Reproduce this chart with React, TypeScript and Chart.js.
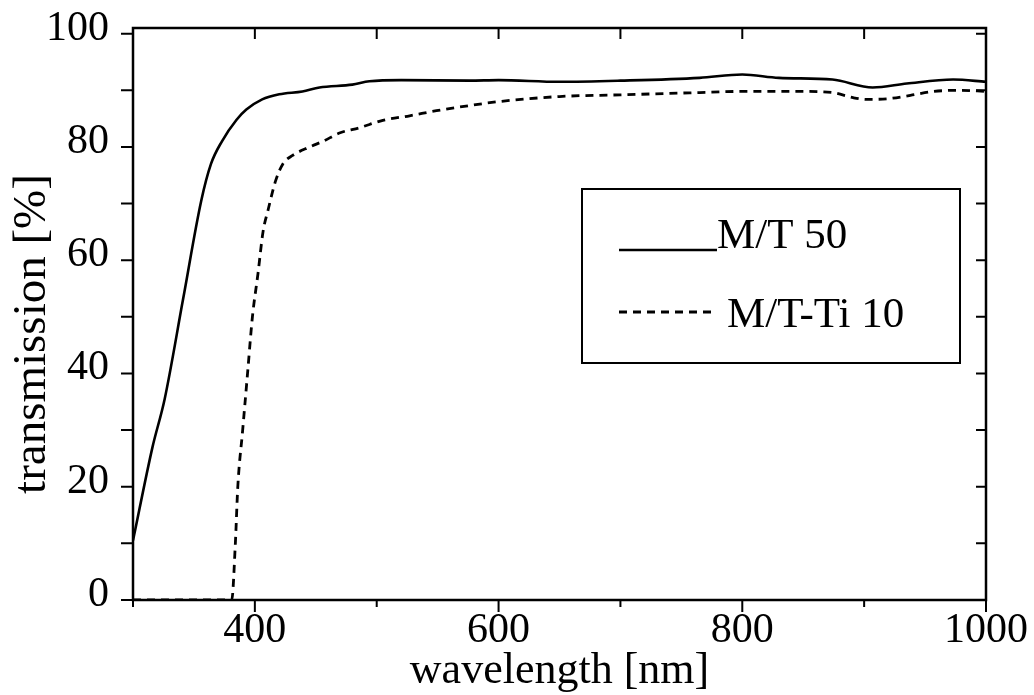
import React, { useEffect, useRef } from 'react';
import { Chart, registerables } from 'chart.js';

Chart.register(...registerables);

// ---- data ----
const wavelengthsMT50 = [300, 316, 326, 341, 356, 364, 373, 385, 393, 406, 420, 439, 453, 480, 494, 520, 576, 600, 650, 700, 765, 800, 830, 874, 907, 935, 973, 1000];
const transmissionMT50 = [10.5, 27, 35.5, 53, 70.5, 77, 81, 84.8, 86.6, 88.4, 89.3, 89.8, 90.5, 91, 91.6, 91.8, 91.7, 91.8, 91.5, 91.7, 92.2, 92.8, 92.2, 91.9, 90.5, 91.2, 91.9, 91.5];

const wavelengthsMTTi10 = [300, 381, 384, 386, 390, 394, 398, 402.6, 406.7, 411, 417, 423, 431, 445, 456, 470, 486, 505, 527, 549, 576, 600, 650, 700, 765, 800, 847, 874, 891, 902, 919, 938, 957, 979, 1000];
const transmissionMTTi10 = [0, 0, 10, 20, 30, 40, 50, 57.7, 65, 69, 74, 77, 78.5, 80, 81, 82.5, 83.4, 84.7, 85.5, 86.4, 87.3, 88, 88.9, 89.2, 89.6, 89.8, 89.8, 89.6, 88.7, 88.4, 88.5, 89.1, 89.8, 90, 89.8];

const seriesLabels = ['M/T 50', 'M/T-Ti 10'];
const xTickValues = [300, 400, 500, 600, 700, 800, 900, 1000];
const xTickLabels = ['', '400', '', '600', '', '800', '', '1000'];
const yTickValues = [0, 10, 20, 30, 40, 50, 60, 70, 80, 90, 100];
const yTickLabels = ['0', '', '20', '', '40', '', '60', '', '80', '', '100'];
const xTitle = 'wavelength [nm]';
const yTitle = 'transmission [%]';

const FONT = "'Liberation Serif', 'Times New Roman', serif";

const framePlugin = {
  id: 'frameAndDecor',
  afterDatasetsDraw(chart: any) {
    const { ctx, chartArea: a, scales } = chart;
    const x = scales.x;
    const y = scales.y;
    ctx.save();
    ctx.strokeStyle = '#000';
    ctx.fillStyle = '#000';
    ctx.lineWidth = 2.5;
    ctx.strokeRect(a.left, a.top, a.right - a.left, a.bottom - a.top);

    ctx.lineWidth = 2;
    ctx.beginPath();
    xTickValues.forEach((v) => {
      const px = x.getPixelForValue(v);
      const major = v % 200 === 0;
      ctx.moveTo(px, a.bottom);
      ctx.lineTo(px, a.bottom + (major ? 12 : 7));
      if (v > 300 && v < 1000) {
        ctx.moveTo(px, a.top);
        ctx.lineTo(px, a.top + 11);
      }
    });
    yTickValues.forEach((v) => {
      const py = y.getPixelForValue(v);
      ctx.moveTo(a.left, py);
      ctx.lineTo(a.left - 12, py);
      ctx.moveTo(a.right, py);
      ctx.lineTo(a.right - 10, py);
    });
    ctx.stroke();

    // axis titles
    ctx.textAlign = 'center';
    ctx.textBaseline = 'alphabetic';
    ctx.font = `44px ${FONT}`;
    ctx.fillText(xTitle, (a.left + a.right) / 2, 683);
    ctx.save();
    ctx.font = `47px ${FONT}`;
    ctx.translate(45, 334);
    ctx.rotate(-Math.PI / 2);
    ctx.fillText(yTitle, 0, 0);
    ctx.restore();

    // legend
    const bx = 582, by = 189, bw = 378, bh = 174;
    ctx.fillStyle = '#fff';
    ctx.fillRect(bx, by, bw, bh);
    ctx.lineWidth = 2;
    ctx.strokeRect(bx, by, bw, bh);
    ctx.fillStyle = '#000';
    ctx.font = `43px ${FONT}`;
    ctx.textAlign = 'left';
    const ds = chart.data.datasets;
    ctx.lineWidth = ds[0].borderWidth;
    ctx.setLineDash([]);
    ctx.beginPath();
    ctx.moveTo(619, 250);
    ctx.lineTo(717, 250);
    ctx.stroke();
    ctx.fillText(ds[0].label, 717, 248);
    ctx.lineWidth = ds[1].borderWidth;
    ctx.setLineDash(ds[1].borderDash);
    ctx.beginPath();
    ctx.moveTo(619, 312);
    ctx.lineTo(713, 312);
    ctx.stroke();
    ctx.setLineDash([]);
    ctx.fillText(ds[1].label, 727, 327);
    ctx.restore();
  },
};

export default function App() {
  const canvasRef = useRef<HTMLCanvasElement | null>(null);

  useEffect(() => {
    const canvas = canvasRef.current;
    if (!canvas) return;
    const chart = new Chart(canvas, {
      type: 'line',
      data: {
        datasets: [
          {
            label: seriesLabels[0],
            data: wavelengthsMT50.map((w, i) => ({ x: w, y: transmissionMT50[i] })),
            borderColor: '#000',
            borderWidth: 2.6,
            pointRadius: 0,
            cubicInterpolationMode: 'monotone',
            fill: false,
          },
          {
            label: seriesLabels[1],
            data: wavelengthsMTTi10.map((w, i) => ({ x: w, y: transmissionMTTi10[i] })),
            borderColor: '#000',
            borderWidth: 2.8,
            borderDash: [8, 6],
            pointRadius: 0,
            cubicInterpolationMode: 'monotone',
            fill: false,
          },
        ],
      },
      options: {
        responsive: false,
        animation: false,
        devicePixelRatio: 1,
        layout: { padding: { top: 28, right: 48, left: 0, bottom: 0 } },
        plugins: {
          legend: { display: false },
          tooltip: { enabled: false },
        },
        scales: {
          x: {
            type: 'linear',
            min: 300,
            max: 1000,
            grid: { display: false, drawTicks: false },
            border: { display: false },
            afterBuildTicks: (scale: any) => {
              scale.ticks = xTickValues.map((v) => ({ value: v }));
            },
            afterFit: (scale: any) => {
              scale.height = 95;
              scale.paddingLeft = 0;
              scale.paddingRight = 0;
            },
            ticks: {
              autoSkip: false,
              maxRotation: 0,
              padding: 6,
              color: '#000',
              font: { family: FONT, size: 42 },
              callback: (v: any) => xTickLabels[xTickValues.indexOf(Number(v))] ?? '',
            },
          },
          y: {
            type: 'linear',
            min: 0,
            max: 101,
            grid: { display: false, drawTicks: false },
            border: { display: false },
            afterBuildTicks: (scale: any) => {
              scale.ticks = yTickValues.map((v) => ({ value: v }));
            },
            afterFit: (scale: any) => {
              scale.width = 133;
              scale.paddingTop = 0;
              scale.paddingBottom = 0;
            },
            ticks: {
              autoSkip: false,
              padding: 24,
              labelOffset: -5,
              color: '#000',
              font: { family: FONT, size: 42 },
              callback: (v: any) => yTickLabels[yTickValues.indexOf(Number(v))] ?? '',
            },
          },
        },
      },
      plugins: [framePlugin],
    });
    return () => chart.destroy();
  }, []);

  return (
    <div style={{ position: 'absolute', left: 0, top: 0, width: 1034, height: 695, background: '#fff' }}>
      <canvas ref={canvasRef} width={1034} height={695} />
    </div>
  );
}
